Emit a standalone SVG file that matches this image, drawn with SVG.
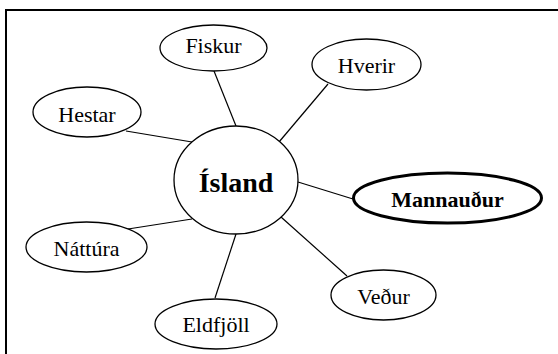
<svg xmlns="http://www.w3.org/2000/svg" width="558" height="354" viewBox="0 0 558 354">
<style>
.n{fill:#fff;stroke:#000;stroke-width:1.3}
.t{font-family:"Liberation Serif","Times New Roman",serif;font-size:22px;fill:#000;text-anchor:middle}
.b{font-weight:bold}
.c line{stroke:#000;stroke-width:1.2}
</style>
<rect width="558" height="354" fill="#fff"/>
<path d="M6,354 V10 H558" fill="none" stroke="#000" stroke-width="2"/>
<g class="c">
<line x1="214" y1="71" x2="236" y2="126"/>
<line x1="126" y1="131" x2="192" y2="142"/>
<line x1="328" y1="84" x2="279" y2="142"/>
<line x1="298" y1="182" x2="353" y2="199"/>
<line x1="281" y1="217" x2="347" y2="276"/>
<line x1="128" y1="229" x2="192" y2="219"/>
<line x1="215" y1="298" x2="236" y2="234"/>
</g>
<g id="island"><ellipse class="n" cx="236" cy="180" rx="62" ry="54"/><text class="t b" x="236" y="192" style="font-size:28px">Ísland</text></g>
<g id="fiskur"><ellipse class="n" cx="213.5" cy="48" rx="53.5" ry="23"/><text class="t" x="213.5" y="53">Fiskur</text></g>
<g id="hestar"><ellipse class="n" cx="87" cy="112" rx="54" ry="25"/><text class="t" x="87" y="122">Hestar</text></g>
<g id="hverir"><ellipse class="n" cx="366.5" cy="64.5" rx="54.5" ry="25.5"/><text class="t" x="366.5" y="73">Hverir</text></g>
<g id="mannaudur"><ellipse class="n" cx="447.5" cy="198" rx="94" ry="25" style="stroke-width:3"/><text class="t b" x="447.5" y="207">Mannauður</text></g>
<g id="nattura"><ellipse class="n" cx="86.5" cy="247" rx="60.5" ry="25"/><text class="t" x="86.5" y="256">Náttúra</text></g>
<g id="vedur"><ellipse class="n" cx="383.5" cy="295" rx="52.5" ry="25"/><text class="t" x="383.5" y="304">Veður</text></g>
<g id="eldfjoll"><ellipse class="n" cx="216" cy="324" rx="61" ry="25"/><text class="t" x="216" y="332">Eldfjöll</text></g>
</svg>
